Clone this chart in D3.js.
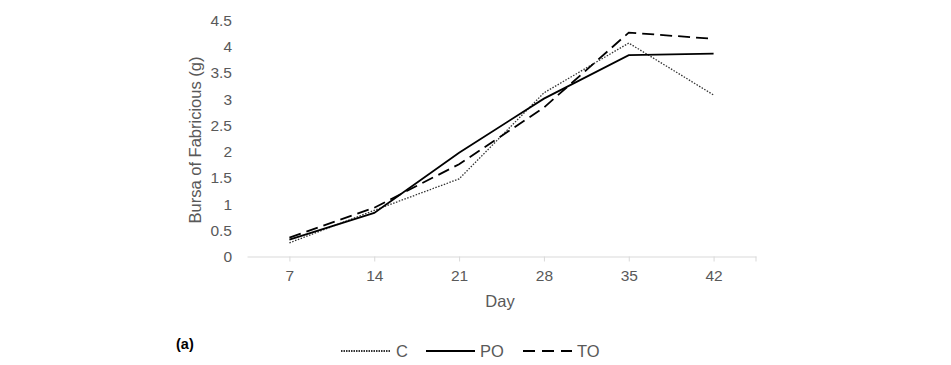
<!DOCTYPE html>
<html><head><meta charset="utf-8">
<script src="https://cdn.jsdelivr.net/npm/d3@7"></script>
<style>body{margin:0;background:#fff}svg{display:block}text{font-family:"Liberation Sans",Arial,sans-serif}</style>
</head><body><svg id="c" width="951" height="365"></svg>
<script>
const days = ["7","14","21","28","35","42"];
const C  = [0.26, 0.88, 1.48, 3.12, 4.07, 3.08];
const PO = [0.32, 0.83, 1.98, 3.01, 3.84, 3.87];
const TO = [0.36, 0.93, 1.76, 2.84, 4.27, 4.15];
const yTicks = [0,0.5,1,1.5,2,2.5,3,3.5,4,4.5];
const seriesNames = ["C","PO","TO"];

(function(){
const svg = d3.select("#c");
const mLeft = 247, mRight = 756, mTop = 20.5, mBottom = 256.5;
const x = d3.scalePoint().domain(days).range([mLeft, mRight]).padding(0.5);
const y = d3.scaleLinear().domain([0,4.5]).range([mBottom, mTop]);
const grey = "#595959";

const xa = svg.append("g").attr("transform", `translate(0,${mBottom})`)
  .call(d3.axisBottom(x).tickSize(5).tickSizeOuter(0));
xa.select(".domain").attr("stroke","#d9d9d9");
xa.selectAll(".tick line").attr("stroke","#d9d9d9");
xa.selectAll(".tick text").attr("fill",grey).attr("font-size",15.5).attr("dy","1.05em");
svg.append("line").attr("x1",mRight).attr("x2",mRight).attr("y1",mBottom).attr("y2",mBottom+5).attr("stroke","#d9d9d9");

const ya = svg.append("g").attr("transform", `translate(${mLeft},0)`)
  .call(d3.axisLeft(y).tickValues(yTicks).tickSize(0).tickPadding(15).tickFormat(d3.format("")));
ya.select(".domain").remove();
ya.selectAll(".tick text").attr("fill",grey).attr("font-size",15.5);

svg.append("text").attr("x",500).attr("y",307).attr("text-anchor","middle").attr("fill",grey).attr("font-size",16.5).text("Day");
svg.append("text").attr("transform",`translate(201,140) rotate(-90)`).attr("text-anchor","middle").attr("fill",grey).attr("font-size",16.5).text("Bursa of Fabricious (g)");

const styles = {C:{dash:"1.5,1.5",w:1.3,col:"#333"}, PO:{dash:null,w:1.8,col:"#000"}, TO:{dash:"12,6",w:1.8,col:"#000"}};
const data = {C, PO, TO};
const line = d3.line().x((d,i)=>x(days[i])).y(d=>y(d));
seriesNames.forEach(n=>{
  svg.append("path").attr("d", line(data[n])).attr("fill","none")
    .attr("stroke",styles[n].col).attr("stroke-width",styles[n].w)
    .attr("stroke-dasharray",styles[n].dash);
});

const lg = [{n:"C",x1:341,x2:390,tx:396},{n:"PO",x1:426,x2:475,tx:480},{n:"TO",x1:523,x2:572,tx:577}];
lg.forEach(l=>{
  svg.append("line").attr("x1",l.x1).attr("x2",l.x2).attr("y1",351).attr("y2",351)
    .attr("stroke",styles[l.n].col).attr("stroke-width",2)
    .attr("stroke-dasharray", l.n==="C"?"1.5,1":(l.n==="TO"?"12,7":null));
  svg.append("text").attr("x",l.tx).attr("y",357).attr("fill",grey).attr("font-size",16.5).text(l.n);
});
svg.append("text").attr("x",176).attr("y",349).attr("font-weight","bold").attr("font-size",14.5).attr("fill","#000").text("(a)");
})();
</script></body></html>
